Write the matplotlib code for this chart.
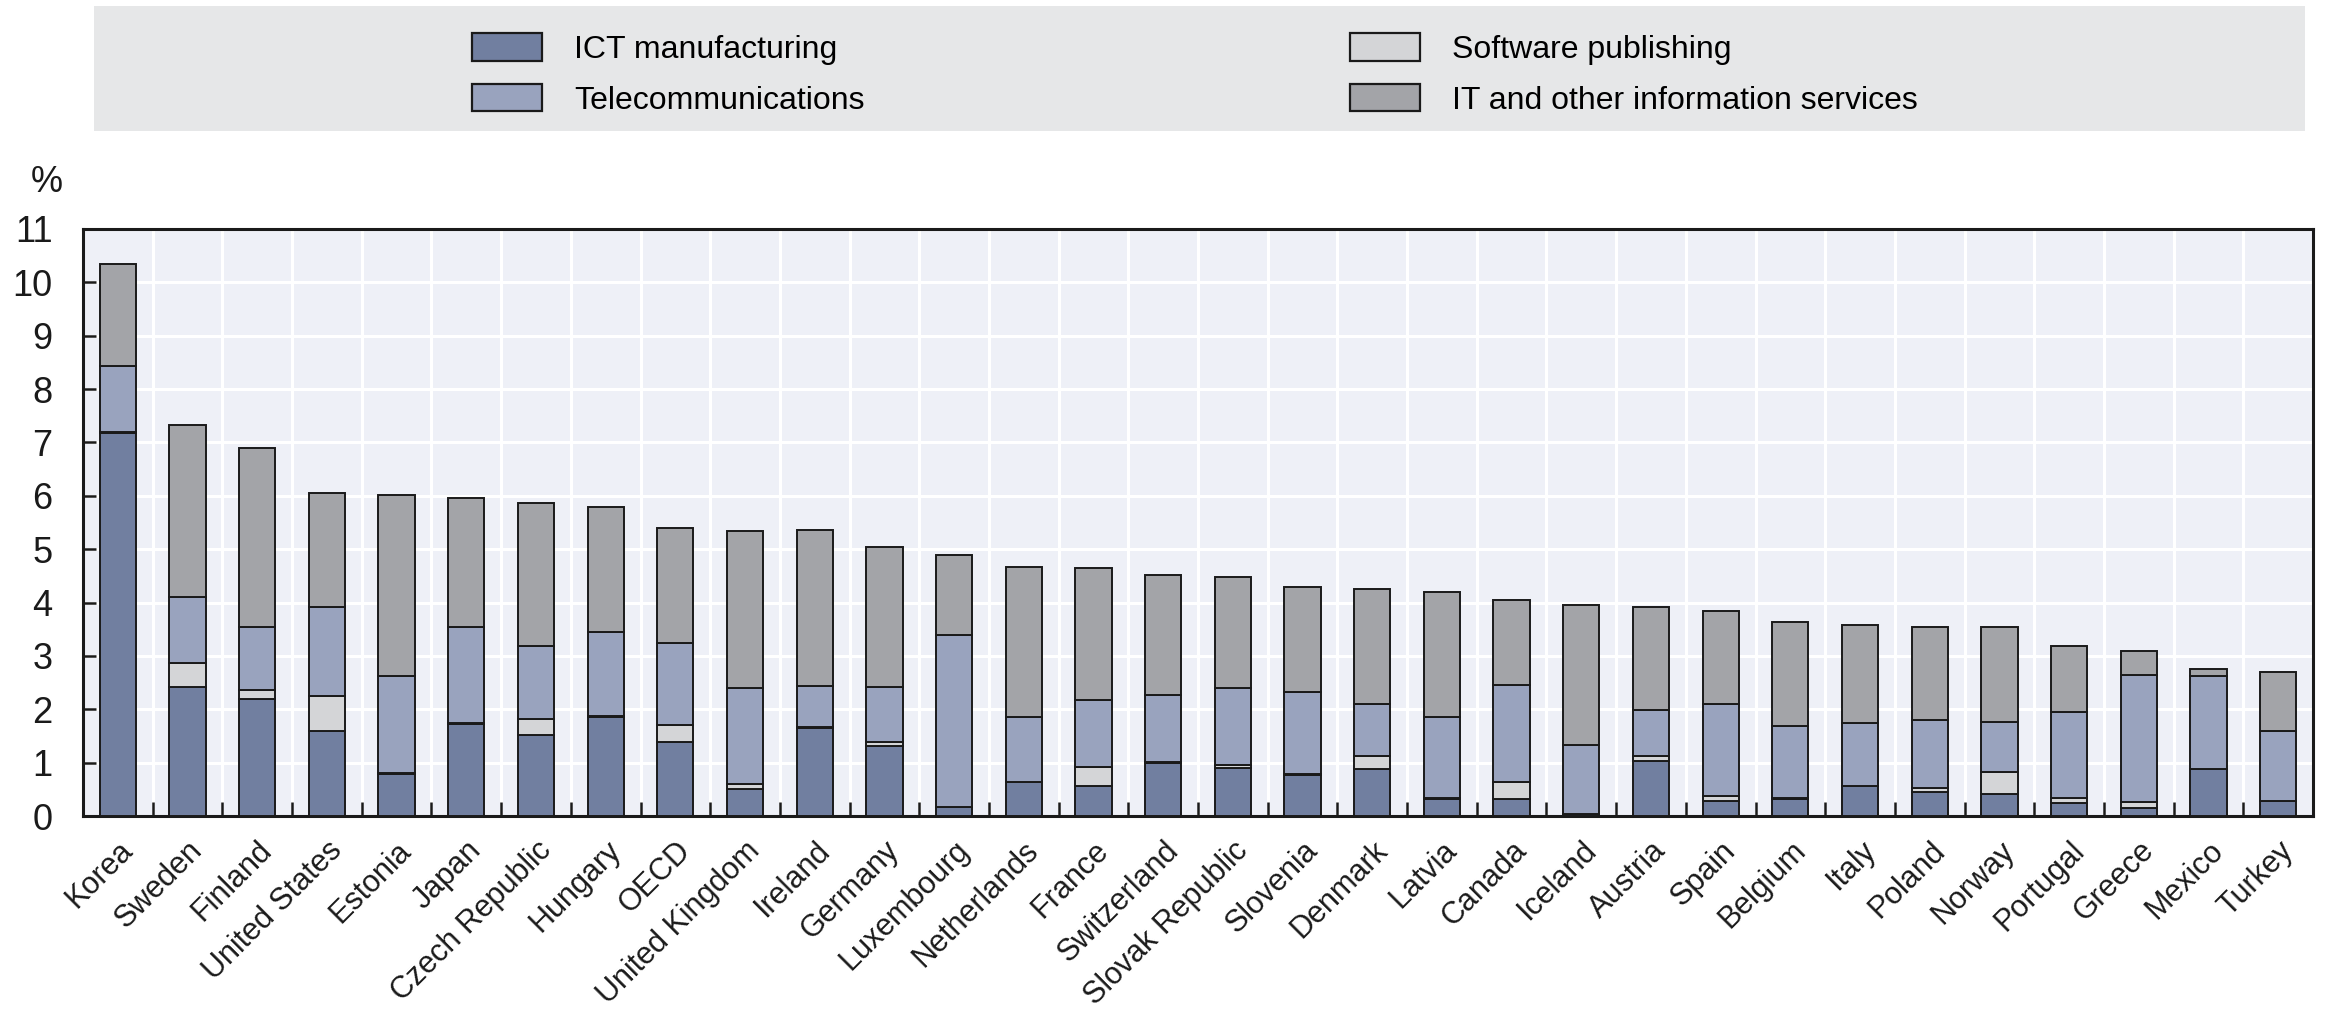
import matplotlib
matplotlib.use("Agg")
import matplotlib.pyplot as plt
from matplotlib.patches import Patch, Rectangle
import numpy as np

plt.rcParams['font.family'] = ['Liberation Sans', 'DejaVu Sans']

countries = ["Korea", "Sweden", "Finland", "United States", "Estonia", "Japan",
             "Czech Republic", "Hungary", "OECD", "United Kingdom", "Ireland",
             "Germany", "Luxembourg", "Netherlands", "France", "Switzerland",
             "Slovak Republic", "Slovenia", "Denmark", "Latvia", "Canada",
             "Iceland", "Austria", "Spain", "Belgium", "Italy", "Poland",
             "Norway", "Portugal", "Greece", "Mexico", "Turkey"]

ict_manufacturing = [7.17, 2.42, 2.20, 1.59, 0.78, 1.73, 1.51, 1.86, 1.39, 0.51, 1.65,
                     1.31, 0.16, 0.63, 0.56, 1.00, 0.90, 0.76, 0.89, 0.32, 0.32,
                     0.03, 1.03, 0.29, 0.32, 0.56, 0.45, 0.41, 0.25, 0.15, 0.88, 0.28]
software_publishing = [0.02, 0.45, 0.17, 0.65, 0.02, 0.01, 0.30, 0.01, 0.31, 0.09, 0.01,
                       0.08, 0.01, 0.01, 0.36, 0.01, 0.05, 0.03, 0.24, 0.01, 0.31,
                       0.01, 0.09, 0.08, 0.01, 0.01, 0.07, 0.41, 0.08, 0.12, 0.01, 0.01]
telecommunications = [1.24, 1.23, 1.17, 1.68, 1.83, 1.80, 1.37, 1.57, 1.54, 1.80, 0.78,
                      1.02, 3.23, 1.22, 1.25, 1.25, 1.45, 1.53, 0.96, 1.52, 1.83,
                      1.29, 0.87, 1.73, 1.35, 1.18, 1.28, 0.94, 1.62, 2.38, 1.74, 1.30]
it_services = [1.92, 3.22, 3.36, 2.13, 3.38, 2.42, 2.69, 2.35, 2.16, 2.95, 2.92,
               2.64, 1.50, 2.81, 2.47, 2.25, 2.07, 1.98, 2.16, 2.34, 1.58,
               2.63, 1.93, 1.74, 1.95, 1.83, 1.75, 1.79, 1.24, 0.45, 0.13, 1.10]

series = [
    ("ICT manufacturing", ict_manufacturing, "#717fa0"),
    ("Software publishing", software_publishing, "#d4d5d7"),
    ("Telecommunications", telecommunications, "#99a3be"),
    ("IT and other information services", it_services, "#a3a4a8"),
]

W, H = 2325, 1017
fig = plt.figure(figsize=(W / 100, H / 100), dpi=100)
ax = fig.add_axes([83 / W, 1 - 816 / H, (2313 - 83) / W, (816 - 229) / H])
ax.set_facecolor("#eef0f7")

x = np.arange(len(countries))
bottom = np.zeros(len(countries))
handles = {}
for name, vals, col in series:
    vals = np.array(vals)
    ax.bar(x, vals, width=0.52, bottom=bottom, color=col, edgecolor="#1a1a1a",
           linewidth=1.4, zorder=3)
    bottom += vals
    handles[name] = Patch(facecolor=col, edgecolor="#1a1a1a", linewidth=1.6)

ax.set_xlim(-0.5, len(countries) - 0.5)
ax.set_ylim(0, 11)
ax.set_yticks(range(0, 12))
ax.set_xticks(x)
ax.set_xticklabels(countries, rotation=45, ha="right", va="top",
                   rotation_mode="anchor", fontsize=22, color="#1a1a1a")
ax.set_xticks(x[:-1] + 0.5, minor=True)
ax.tick_params(axis="x", which="major", length=0, pad=14)
ax.tick_params(axis="x", which="minor", direction="in", length=10, width=1.8,
               color="#1a1a1a")
ax.tick_params(axis="y", direction="in", length=9, width=1.8, labelsize=26,
               pad=22, color="#1a1a1a", labelcolor="#1a1a1a")
ax.grid(axis="y", which="major", color="white", linewidth=2.2, zorder=1)
ax.grid(axis="x", which="minor", color="white", linewidth=2.2, zorder=1)
ax.set_axisbelow(True)
for sp in ax.spines.values():
    sp.set_linewidth(2.2)
    sp.set_color("#1a1a1a")

fig.text(47 / W, 1 - 182 / H, "%", ha="center", va="center", fontsize=26,
         color="#1a1a1a")

# legend panel
fig.patches.append(Rectangle((94 / W, 1 - 131 / H), (2305 - 94) / W, 125 / H,
                             transform=fig.transFigure, facecolor="#e6e7e8",
                             edgecolor="none", zorder=0))
leg_kw = dict(loc="upper left", frameon=False, fontsize=23, handlelength=2.2,
              handleheight=0.95, handletextpad=1.0, labelspacing=0.6,
              borderpad=0, borderaxespad=0)
names1 = ["ICT manufacturing", "Telecommunications"]
names2 = ["Software publishing", "IT and other information services"]
leg1 = fig.legend([handles[n] for n in names1], names1,
                  bbox_to_anchor=(472 / W, 1 - 33 / H), **leg_kw)
leg2 = fig.legend([handles[n] for n in names2], names2,
                  bbox_to_anchor=(1350 / W, 1 - 33 / H), **leg_kw)

fig.savefig("out.png", dpi=100)
